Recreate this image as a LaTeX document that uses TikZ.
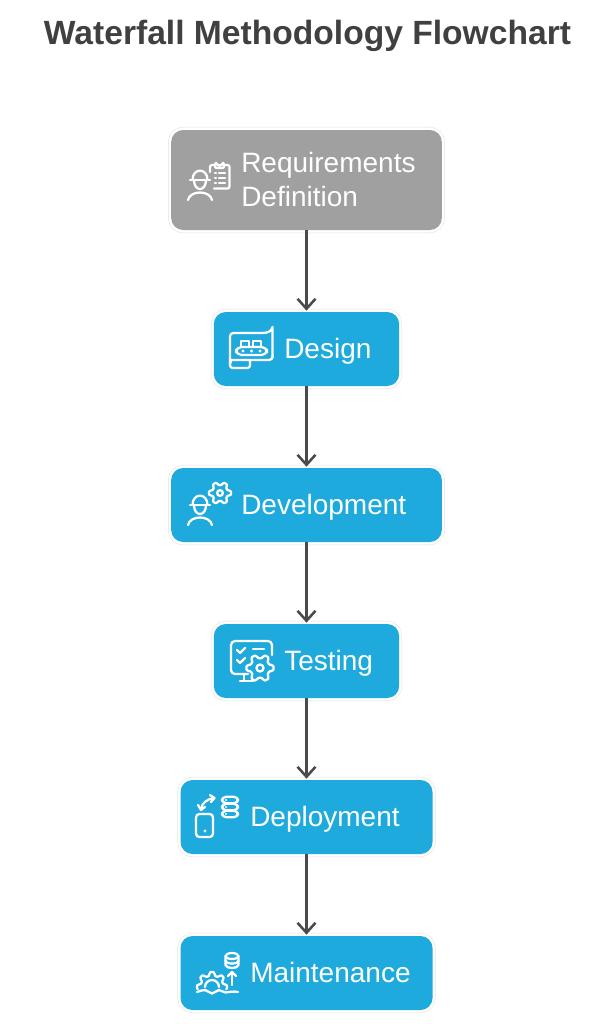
\documentclass[tikz,border=0pt]{standalone}
\usepackage{fontspec}
\setmainfont{Liberation Sans}
\usetikzlibrary{arrows.meta}
\definecolor{boxblue}{HTML}{1EAADC}
\definecolor{boxgray}{HTML}{A0A0A0}
\definecolor{ink}{HTML}{404040}
\definecolor{edgeink}{HTML}{4A4A4A}
\definecolor{halo}{HTML}{E2E2E2}
\newcommand{\gearicon}[4]{% x,y,r,fill
  \draw[iconline,fill=#4] plot[domain=0:360,samples=145,variable=\t]
    ({#1+#3*(0.86+0.14*max(-1,min(1,1.4*cos(6*\t))))*cos(\t)},{#2+#3*(0.86+0.14*max(-1,min(1,1.4*cos(6*\t))))*sin(\t)}) -- cycle;
  \draw[iconline] (#1,#2) circle[radius=#3*0.26];
}
\tikzset{
  x=0.75pt,y=-0.75pt,
  flowbox/.style={rectangle,rounded corners=9pt,inner sep=0pt,outer sep=1pt,
    preaction={draw=halo,line width=4.6pt},
    preaction={draw=white,line width=3.8pt}},
  bluebox/.style={flowbox,fill=boxblue},
  graybox/.style={flowbox,fill=boxgray},
  boxlabel/.style={anchor=base west,text=white,inner sep=0pt,font=\fontsize{21}{25}\selectfont},
  titlelabel/.style={text=ink,inner sep=0pt,font=\bfseries\fontsize{25.2}{30}\selectfont},
  flowarrow/.style={draw=edgeink,line width=1.9pt,shorten <=-1pt,-{Straight Barb[length=7.5pt,width=13.5pt,line width=1.9pt]}},
  iconline/.style={draw=white,line width=1.7pt,line cap=round,line join=round},
  worker/.pic={
    \draw[iconline] (-10,0) -- (10,0);
    \draw[iconline] (-7.5,0) .. controls (-7.5,-12.5) and (7.5,-12.5) .. (7.5,0);
    \draw[iconline] (-6,0) .. controls (-6,12) and (6,12) .. (6,0);
    \draw[iconline] (-12,20) .. controls (-10,10) and (10,10) .. (12,20);
  },
}
\begin{document}
\begin{tikzpicture}
\useasboundingbox[fill=white] (0,0) rectangle (613,1024);
\node[titlelabel] (title) at (307.5,36) {Waterfall Methodology Flowchart};

\node[graybox,minimum width=203pt,minimum height=75pt] (req) at (306.5,180) {};
\node[bluebox,minimum width=139pt,minimum height=55.5pt] (des) at (306.5,349) {};
\node[bluebox,minimum width=203pt,minimum height=55.5pt] (dev) at (306.5,505) {};
\node[bluebox,minimum width=139pt,minimum height=55.5pt] (tes) at (306.5,661) {};
\node[bluebox,minimum width=189pt,minimum height=55.5pt] (dep) at (306.5,817) {};
\node[bluebox,minimum width=189pt,minimum height=55.5pt] (mai) at (306.5,973) {};

\draw[flowarrow] (req) -- (des);
\draw[flowarrow] (des) -- (dev);
\draw[flowarrow] (dev) -- (tes);
\draw[flowarrow] (tes) -- (dep);
\draw[flowarrow] (dep) -- (mai);

\node[boxlabel] (l1a) at (241,172) {Requirements};
\node[boxlabel] (l1b) at (241,206) {Definition};
\node[boxlabel] (l2) at (284,358) {Design};
\node[boxlabel] (l3) at (241,514) {Development};
\node[boxlabel] (l4) at (284,670) {Testing};
\node[boxlabel] (l5) at (250,826) {Deployment};
\node[boxlabel] (l6) at (250,982) {Maintenance};

% Requirements icon
\pic at (200,180) {worker};
\draw[iconline,rounded corners=1.5pt] (215,165) -- (210,165) -- (210,172);
\draw[iconline,rounded corners=1.5pt] (214,188.5) -- (229.5,188.5) -- (229.5,165) -- (224,165);
\draw[iconline,rounded corners=1pt] (215,168) -- (215,163) -- (217,163) arc[start angle=180,end angle=0,radius=2.5] -- (224,163) -- (224,168) -- cycle;
\foreach \yy in {173,178,183}{
  \draw[iconline] (215,\yy) -- (216,\yy);
  \draw[iconline] (219,\yy) -- (225,\yy);
}

% Design icon
\draw[iconline,rounded corners=2pt] (230,362) -- (230,368) -- (250,368) -- (250,361);
\draw[iconline,rounded corners=2.5pt] (230,364) -- (230,333) -- (262,333);
\draw[iconline] (262,333) .. controls (268,333) and (272,331) .. (272.5,327) -- (272.5,358);
\draw[iconline,rounded corners=2.5pt] (272.5,356) -- (272.5,360) -- (235,360) .. controls (232,360) and (230,361) .. (230,364);
\draw[iconline,rounded corners=4pt] (236,347) rectangle (267,355);
\draw[iconline] (241,341) rectangle (249,347);
\draw[iconline] (253,341) rectangle (261,347);
\foreach \xx in {243,251.5,260}{\fill[white] (\xx,351) circle[radius=1.7];}

% Development icon
\pic at (200,505) {worker};
\gearicon{220}{493}{11}{boxblue}

% Testing icon
\draw[iconline,rounded corners=3pt] (272,655) -- (272,641) -- (231,641) -- (231,674) -- (248,674);
\draw[iconline] (244,674) -- (244,681);
\draw[iconline] (240,681) -- (253,681);
\draw[iconline] (237,650) -- (240,653) -- (245,648);
\draw[iconline] (237,660) -- (240,663) -- (245,658);
\draw[iconline] (253,649) -- (264,649);
\gearicon{260}{668}{13.5}{boxblue}

% Deployment icon
\draw[iconline,rounded corners=2.5pt] (196,814) rectangle (213,837);
\fill[white] (205,831) circle[radius=1.7];
\draw[iconline] (214,798) .. controls (207,799) and (202,803) .. (201,809);
\draw[iconline] (198,805) -- (201,810) -- (205,807);
\draw[iconline] (210,795) -- (214.5,798) -- (211,802);
\foreach \yy in {800,807,814}{
  \draw[iconline,rounded corners=3pt] (222,\yy-3.2) rectangle (238,\yy+3.2);
  \fill[white] (226,\yy) circle[radius=1.1];
}

% Maintenance icon
\draw[iconline] (232,956) ellipse[x radius=6.5,y radius=3];
\draw[iconline] (225.5,956) -- (225.5,965) .. controls (226,969) and (238,969) .. (238.5,965) -- (238.5,956);
\draw[iconline] (225.5,961) .. controls (226,964.5) and (238,964.5) .. (238.5,961);
\draw[iconline] (232,985) -- (232,972);
\draw[iconline] (228,976) -- (232,972) -- (236,976);
\draw[iconline] plot[domain=-8:188,samples=100,variable=\t]
  ({212+15*(0.88+0.12*max(-1,min(1,1.4*cos(8*\t))))*cos(\t)},{987-15*(0.88+0.12*max(-1,min(1,1.4*cos(8*\t))))*sin(\t)});
\draw[iconline] (205,987) arc[start angle=180,end angle=360,radius=7];
\draw[iconline] (197,992) .. controls (200,991) and (202,990) .. (205,990)
  .. controls (208,990) and (209,993.5) .. (212,993.5)
  .. controls (215,993.5) and (216,990) .. (219,990)
  .. controls (222,990) and (223,993) .. (226,992.5)
  .. controls (229,992) and (233,991) .. (238,992);
\end{tikzpicture}
\end{document}
